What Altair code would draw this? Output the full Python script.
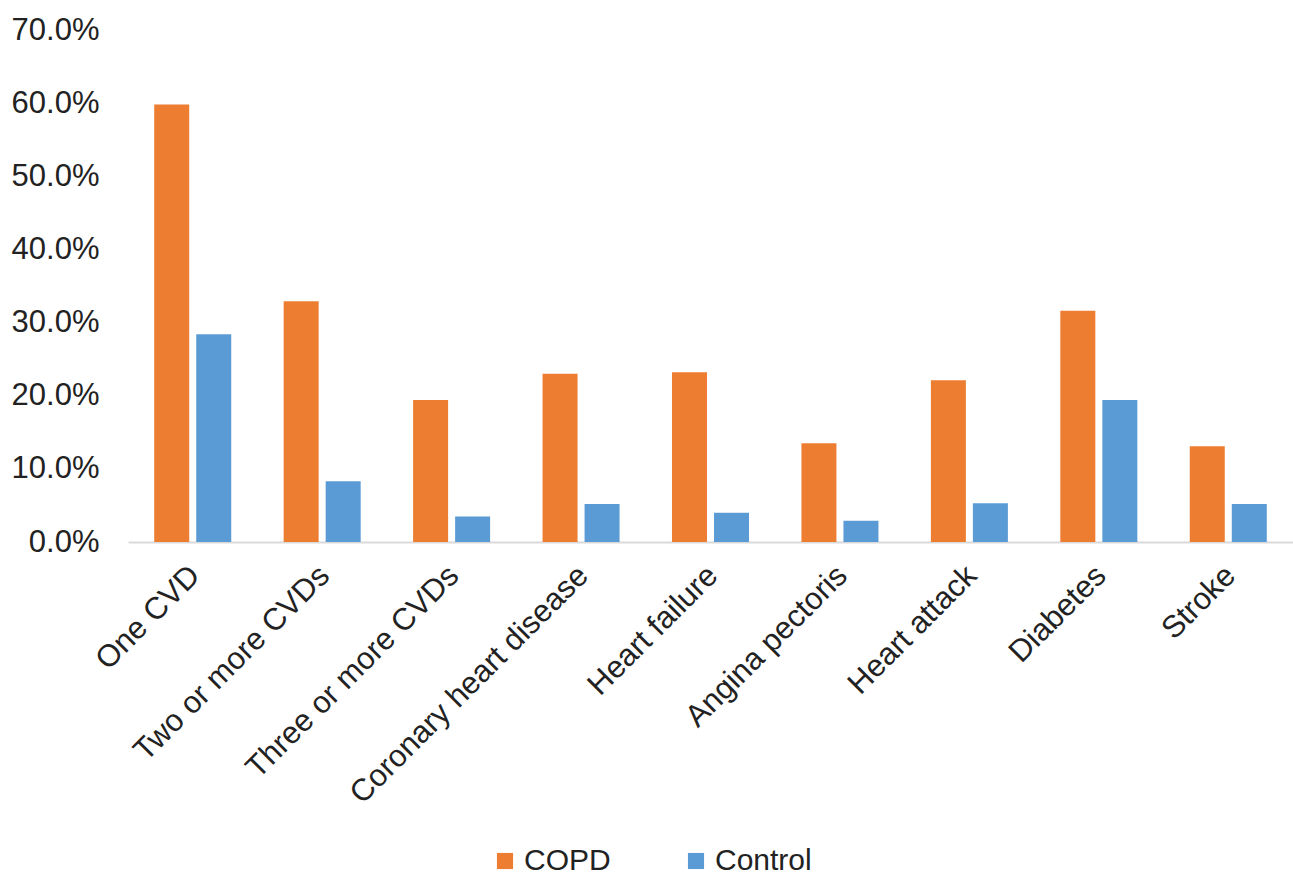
import altair as alt
import pandas as pd

categories = ["One CVD", "Two or more CVDs", "Three or more CVDs", "Coronary heart disease",
              "Heart failure", "Angina pectoris", "Heart attack", "Diabetes", "Stroke"]
copd = [59.8, 32.9, 19.4, 23.0, 23.2, 13.5, 22.1, 31.6, 13.1]
control = [28.4, 8.3, 3.5, 5.2, 4.0, 2.9, 5.3, 19.4, 5.2]
groups = ["COPD", "Control"]
colors = ["#ED7D31", "#5B9BD5"]

rows = []
for c, a, b in zip(categories, copd, control):
    rows.append({"cat": c, "group": "COPD", "val": a / 100})
    rows.append({"cat": c, "group": "Control", "val": b / 100})
df = pd.DataFrame(rows)

FONT = "Liberation Sans"

chart = alt.Chart(df).mark_bar().encode(
    x=alt.X("cat:N", sort=categories, title=None,
            scale=alt.Scale(paddingInner=0.405, paddingOuter=0.2025),
            axis=alt.Axis(labelAngle=-45, labelFontSize=31, labelFont=FONT, labelColor="#222222",
                          ticks=False, domainColor="#d9d9d9", domainWidth=2, labelPadding=18,
                          labelOffset=-8, labelLimit=500)),
    xOffset=alt.XOffset("group:N", sort=groups, scale=alt.Scale(paddingInner=0.167)),
    y=alt.Y("val:Q", title=None,
            scale=alt.Scale(domain=[0, 0.7], nice=False),
            axis=alt.Axis(format=".1%", values=[0, 0.1, 0.2, 0.3, 0.4, 0.5, 0.6, 0.7],
                          labelFontSize=31, labelFont=FONT, labelColor="#222222",
                          grid=False, domain=False, ticks=False, labelPadding=29)),
    color=alt.Color("group:N", sort=groups, scale=alt.Scale(domain=groups, range=colors),
                    legend=alt.Legend(title=None, orient="none", direction="horizontal",
                                      legendX=362, legendY=816, symbolType="square",
                                      symbolSize=260, labelFontSize=30, labelFont=FONT,
                                      labelColor="#222222", columnPadding=70,
                                      symbolStrokeWidth=0)),
).properties(
    width=1165, height=512,
    autosize=alt.AutoSizeParams(type="none"),
    padding={"left": 128, "top": 30, "right": 0, "bottom": 338},
).configure_view(stroke=None)

chart.save("out.html", embed_options={"renderer": "svg", "actions": False})
